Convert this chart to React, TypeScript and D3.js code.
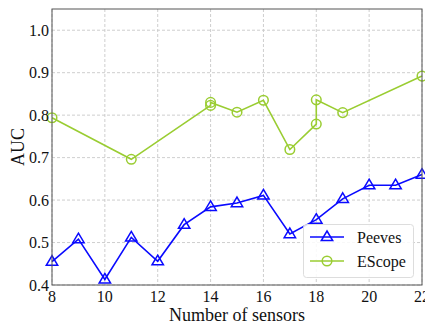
import React from "react";
import * as d3 from "d3";

const peevesX = [8, 9, 10, 11, 12, 13, 14, 15, 16, 17, 18, 19, 20, 21, 22];
const peevesY = [0.455, 0.508, 0.413, 0.512, 0.456, 0.542, 0.584, 0.593, 0.611, 0.52, 0.554, 0.603, 0.635, 0.635, 0.66];
const escopeX = [8, 11, 14, 14, 15, 16, 17, 18, 18, 19, 22];
const escopeY = [0.794, 0.696, 0.823, 0.83, 0.807, 0.835, 0.719, 0.779, 0.836, 0.806, 0.892];
const xTicks = [8, 10, 12, 14, 16, 18, 20, 22];
const yTicks = [0.4, 0.5, 0.6, 0.7, 0.8, 0.9, 1.0];

const W = 425, H = 324;
const M = { left: 52, right: 422, top: 9, bottom: 285 };
const BLUE = "#0a0aff";
const GREEN = "#9acd32";
const FONT = "'Liberation Serif', 'Times New Roman', serif";

export default function App() {
  const x = d3.scaleLinear().domain([8, 22]).range([M.left, M.right]);
  const y = d3.scaleLinear().domain([0.4, 1.05]).range([M.bottom, M.top]);
  const line = d3.line<[number, number]>().x(d => x(d[0])).y(d => y(d[1]));
  const pData: [number, number][] = peevesX.map((v, i) => [v, peevesY[i]]);
  const eData: [number, number][] = escopeX.map((v, i) => [v, escopeY[i]]);
  const tri = (cx: number, cy: number, s = 6) =>
    `M${cx},${cy - s}L${cx + s * 0.95},${cy + s * 0.6}L${cx - s * 0.95},${cy + s * 0.6}Z`;

  return (
    <svg width={W} height={H} style={{ position: "absolute", left: 0, top: 0, background: "#fff" }}>
      <rect x={0} y={0} width={W} height={H} fill="#fff" />
      {xTicks.map(t => (
        <line key={"gx" + t} x1={x(t)} x2={x(t)} y1={M.top} y2={M.bottom} stroke="#c8c8c8" strokeDasharray="3,2" strokeWidth={0.9} />
      ))}
      {yTicks.map(t => (
        <line key={"gy" + t} x1={M.left} x2={M.right} y1={y(t)} y2={y(t)} stroke="#c8c8c8" strokeDasharray="3,2" strokeWidth={0.9} />
      ))}
      <path d={line(eData) || ""} fill="none" stroke={GREEN} strokeWidth={1.6} />
      {eData.map((d, i) => (
        <circle key={"e" + i} cx={x(d[0])} cy={y(d[1])} r={4.8} fill="none" stroke={GREEN} strokeWidth={1.5} />
      ))}
      <path d={line(pData) || ""} fill="none" stroke={BLUE} strokeWidth={1.6} />
      {pData.map((d, i) => (
        <path key={"p" + i} d={tri(x(d[0]), y(d[1]))} fill="none" stroke={BLUE} strokeWidth={1.5} />
      ))}
      <rect x={M.left} y={M.top} width={M.right - M.left} height={M.bottom - M.top} fill="none" stroke="#555" strokeWidth={1} />
      {xTicks.map(t => (
        <text key={"tx" + t} x={x(t)} y={M.bottom + 17} textAnchor="middle" fontFamily={FONT} fontSize={16} fill="#111">{t}</text>
      ))}
      {yTicks.map(t => (
        <text key={"ty" + t} x={M.left - 3} y={y(t) + 5.5} textAnchor="end" fontFamily={FONT} fontSize={16} fill="#111">{t.toFixed(1)}</text>
      ))}
      <text x={(M.left + M.right) / 2} y={321} textAnchor="middle" fontFamily={FONT} fontSize={18} fill="#111">Number of sensors</text>
      <text transform={`translate(24,${(M.top + M.bottom) / 2}) rotate(-90)`} textAnchor="middle" fontFamily={FONT} fontSize={18} fill="#111">AUC</text>
      <g>
        <rect x={303.5} y={224.5} width={110} height={53} rx={3} fill="#fff" fillOpacity={0.85} stroke="#ddd" strokeWidth={1} />
        <line x1={310} x2={344} y1={237} y2={237} stroke={BLUE} strokeWidth={1.6} />
        <path d={tri(327, 237)} fill="none" stroke={BLUE} strokeWidth={1.5} />
        <text x={357} y={242.5} fontFamily={FONT} fontSize={16} fill="#111">Peeves</text>
        <line x1={310} x2={344} y1={261} y2={261} stroke={GREEN} strokeWidth={1.6} />
        <circle cx={327} cy={261} r={4.8} fill="none" stroke={GREEN} strokeWidth={1.5} />
        <text x={357} y={266.5} fontFamily={FONT} fontSize={16} fill="#111">EScope</text>
      </g>
    </svg>
  );
}
